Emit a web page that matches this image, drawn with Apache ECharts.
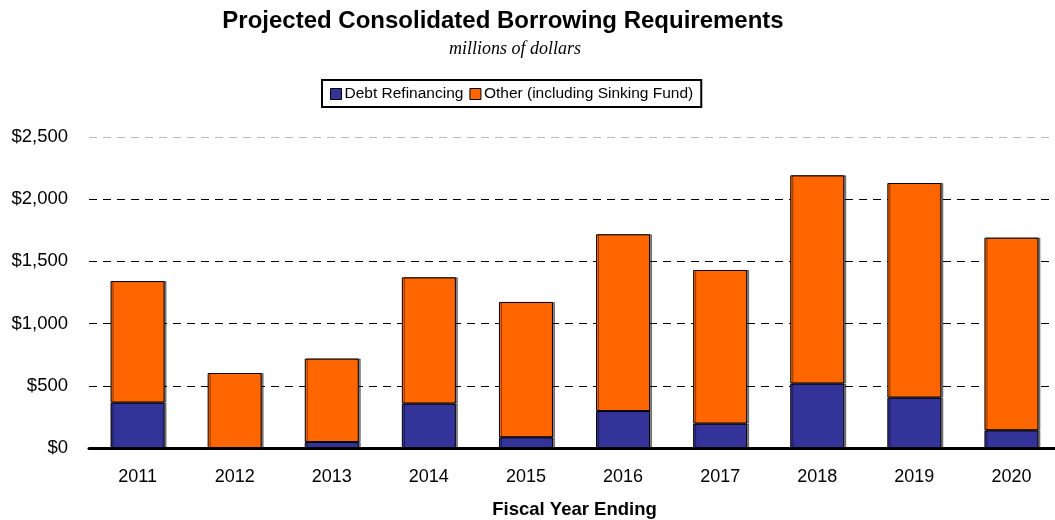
<!DOCTYPE html>
<html><head><meta charset="utf-8">
<script src="https://cdn.jsdelivr.net/npm/echarts@6/dist/echarts.min.js"></script>
<style>html,body{margin:0;padding:0;background:#fff}#c{width:1055px;height:520px}</style>
</head><body><div id="c"></div>
<script>
const categories = ['2011','2012','2013','2014','2015','2016','2017','2018','2019','2020'];
const totals = [1342, 603, 719, 1372, 1174, 1718, 1431, 2192, 2130, 1691];
const debtRefinancing = [365, 0, 48, 357, 86, 297, 196, 518, 405, 142];
const other = totals.map((t, i) => t - debtRefinancing[i]);
const yTicks = [0, 500, 1000, 1500, 2000, 2500];

const chart = echarts.init(document.getElementById('c'));
const barStyle = (c) => ({color: c, borderColor: '#000', borderWidth: 1,
  shadowColor: 'rgba(0,0,0,0.45)', shadowOffsetX: 2, shadowOffsetY: 0, shadowBlur: 0});
chart.setOption({
  animation: false,
  backgroundColor: '#fff',
  textStyle: {fontFamily: 'Liberation Sans, Arial, sans-serif'},
  title: [{
    text: 'Projected Consolidated Borrowing Requirements',
    left: 498, top: 4, textAlign: 'center',
    textStyle: {fontSize: 24, fontWeight: 'bold', color: '#000', fontFamily: 'Liberation Sans, Arial, sans-serif'}
  }, {
    text: 'millions of dollars',
    left: 510, top: 35, textAlign: 'center',
    textStyle: {fontSize: 18, fontStyle: 'italic', fontWeight: 'normal', color: '#000', fontFamily: 'Liberation Serif, Times New Roman, serif'}
  }],
  legend: {
    top: 80, left: 322, padding: [6, 8, 5, 8],
    borderColor: '#000', borderWidth: 2,
    itemWidth: 11, itemHeight: 11, itemGap: 6,
    textStyle: {fontSize: 15.5, color: '#000', padding: [0, 0, 0, -2]},
    data: [{name: 'Debt Refinancing', icon: 'rect', itemStyle: {borderColor: '#000', borderWidth: 1, shadowBlur: 0, shadowOffsetX: 0}},
           {name: 'Other (including Sinking Fund)', icon: 'rect', itemStyle: {borderColor: '#000', borderWidth: 1, shadowBlur: 0, shadowOffsetX: 0}}]
  },
  grid: {left: 89, top: 137, width: 971, height: 311, containLabel: false, outerBoundsMode: 'none'},
  xAxis: {
    type: 'category', data: categories,
    name: 'Fiscal Year Ending', nameLocation: 'middle', nameGap: 52,
    nameTextStyle: {fontSize: 18.5, fontWeight: 'bold', color: '#000'},
    axisLine: {lineStyle: {color: '#000', width: 3}},
    axisTick: {show: false},
    axisLabel: {fontSize: 18, color: '#000', margin: 20}
  },
  yAxis: {
    type: 'value', min: 0, max: 2500, interval: 500,
    axisLine: {show: false},
    axisTick: {show: false},
    axisLabel: {fontSize: 18.5, color: '#000', margin: 21,
      formatter: v => '$' + v.toLocaleString('en-US')},
    splitLine: {lineStyle: {color: ['#000','#000','#000','#000','#000','#bbb'], type: [8, 6], width: 1}}
  },
  series: [{
    name: 'Debt Refinancing', type: 'bar', stack: 's', data: debtRefinancing,
    barWidth: 54, itemStyle: barStyle('#333399')
  }, {
    name: 'Other (including Sinking Fund)', type: 'bar', stack: 's', data: other,
    barWidth: 54, itemStyle: barStyle('#FF6600')
  }]
});
</script></body></html>
